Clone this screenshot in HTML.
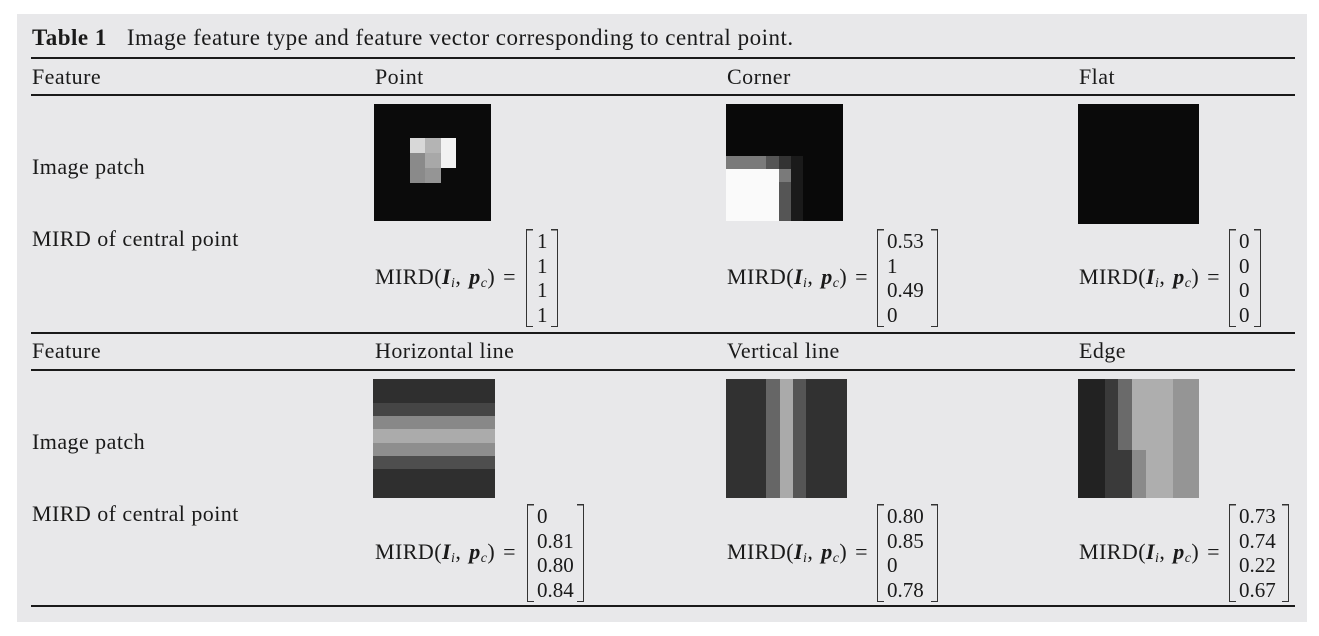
<!DOCTYPE html>
<html><head><meta charset="utf-8"><style>
body{margin:0;width:1319px;height:636px;background:#fff;position:relative;overflow:hidden;font-family:"Liberation Serif",serif;color:#1a1a1a;}
#box{position:absolute;left:17px;top:14px;width:1290px;height:608px;background:#e8e8ea;}
.t{position:absolute;font-size:22px;line-height:22px;white-space:nowrap;letter-spacing:0.45px;}
.hl{position:absolute;left:31px;width:1264px;height:2px;background:#1a1a1a;}
.m{position:absolute;border-left:1.5px solid #333;border-right:1.5px solid #333;box-sizing:border-box;font-size:21px;
background:linear-gradient(#333,#333) left top/6px 1.5px no-repeat,linear-gradient(#333,#333) right top/6px 1.5px no-repeat,linear-gradient(#333,#333) left bottom/6px 1.5px no-repeat,linear-gradient(#333,#333) right bottom/6px 1.5px no-repeat;}
.m div{height:24.5px;line-height:24.5px;padding-left:9px;}
.p{position:absolute;}
sub{font-size:14px;font-style:italic;vertical-align:-3px;}
b i{font-weight:bold;}
.f{word-spacing:2px;}
</style></head><body>
<div id="box"></div>
<div class="t" style="left:32px;top:27px;font-size:23px;letter-spacing:0.5px"><b>Table 1</b><span style="display:inline-block;width:20px"></span>Image feature type and feature vector corresponding to central point.</div>
<div class="hl" style="top:57px"></div>
<div class="hl" style="top:94px"></div>
<div class="hl" style="top:332px"></div>
<div class="hl" style="top:369px"></div>
<div class="hl" style="top:605px"></div>

<div class="t" style="left:32px;top:66px">Feature</div>
<div class="t" style="left:375px;top:66px">Point</div>
<div class="t" style="left:727px;top:66px">Corner</div>
<div class="t" style="left:1079px;top:66px">Flat</div>
<div class="t" style="left:32px;top:156px">Image patch</div>
<div class="t" style="left:32px;top:228px">MIRD of central point</div>

<div class="t" style="left:32px;top:340px">Feature</div>
<div class="t" style="left:375px;top:340px">Horizontal line</div>
<div class="t" style="left:727px;top:340px">Vertical line</div>
<div class="t" style="left:1079px;top:340px">Edge</div>
<div class="t" style="left:32px;top:431px">Image patch</div>
<div class="t" style="left:32px;top:503px">MIRD of central point</div>

<div class="t f" style="left:375px;top:266px">MIRD(<b><i>I</i></b><sub>i</sub>, <b><i>p</i></b><sub>c</sub>) =</div>
<div class="t f" style="left:727px;top:266px">MIRD(<b><i>I</i></b><sub>i</sub>, <b><i>p</i></b><sub>c</sub>) =</div>
<div class="t f" style="left:1079px;top:266px">MIRD(<b><i>I</i></b><sub>i</sub>, <b><i>p</i></b><sub>c</sub>) =</div>
<div class="t f" style="left:375px;top:541px">MIRD(<b><i>I</i></b><sub>i</sub>, <b><i>p</i></b><sub>c</sub>) =</div>
<div class="t f" style="left:727px;top:541px">MIRD(<b><i>I</i></b><sub>i</sub>, <b><i>p</i></b><sub>c</sub>) =</div>
<div class="t f" style="left:1079px;top:541px">MIRD(<b><i>I</i></b><sub>i</sub>, <b><i>p</i></b><sub>c</sub>) =</div>

<div class="m" style="left:526px;top:229px;width:32px;height:98px"><div style="padding-left:10px">1</div><div style="padding-left:10px">1</div><div style="padding-left:10px">1</div><div style="padding-left:10px">1</div></div>
<div class="m" style="left:877px;top:229px;width:61px;height:98px"><div>0.53</div><div>1</div><div>0.49</div><div>0</div></div>
<div class="m" style="left:1229px;top:229px;width:32px;height:98px"><div>0</div><div>0</div><div>0</div><div>0</div></div>
<div class="m" style="left:527px;top:504px;width:57px;height:98px"><div>0</div><div>0.81</div><div>0.80</div><div>0.84</div></div>
<div class="m" style="left:877px;top:504px;width:61px;height:98px"><div>0.80</div><div>0.85</div><div>0</div><div>0.78</div></div>
<div class="m" style="left:1229px;top:504px;width:60px;height:98px"><div>0.73</div><div>0.74</div><div>0.22</div><div>0.67</div></div>

<svg class="p" style="left:0;top:0" width="1319" height="636">
<g>
<rect x="374" y="104" width="117" height="117" fill="#0b0b0b"/>
<rect x="410" y="138" width="15" height="15" fill="#d8d8d8"/>
<rect x="425" y="138" width="16" height="15" fill="#b4b4b4"/>
<rect x="441" y="138" width="15" height="30" fill="#f2f2f2"/>
<rect x="410" y="153" width="15" height="30" fill="#8a8a8a"/>
<rect x="425" y="153" width="16" height="15" fill="#a8a8a8"/>
<rect x="425" y="168" width="16" height="15" fill="#959595"/>
</g>
<g>
<rect x="726" y="104" width="117" height="117" fill="#090909"/>
<rect x="726" y="156" width="40" height="13" fill="#7a7a7a"/>
<rect x="766" y="156" width="13" height="13" fill="#555"/>
<rect x="779" y="156" width="12" height="13" fill="#333"/>
<rect x="779" y="169" width="12" height="13" fill="#7a7a7a"/>
<rect x="791" y="156" width="12" height="65" fill="#1a1a1a"/>
<rect x="779" y="182" width="12" height="39" fill="#555"/>
<rect x="726" y="169" width="53" height="52" fill="#fafafa"/>
</g>
<rect x="1078" y="104" width="121" height="120" fill="#0a0a0a"/>
<g>
<rect x="373" y="379" width="122" height="119" fill="#2f2f2f"/>
<rect x="373" y="403" width="122" height="13" fill="#454545"/>
<rect x="373" y="416" width="122" height="13" fill="#888"/>
<rect x="373" y="429" width="122" height="14" fill="#ababab"/>
<rect x="373" y="443" width="122" height="13" fill="#8e8e8e"/>
<rect x="373" y="456" width="122" height="13" fill="#4e4e4e"/>
</g>
<g>
<rect x="726" y="379" width="121" height="119" fill="#313131"/>
<rect x="766" y="379" width="14" height="119" fill="#666"/>
<rect x="780" y="379" width="13" height="119" fill="#aaa"/>
<rect x="793" y="379" width="13" height="119" fill="#555"/>
</g>
<g>
<rect x="1078" y="379" width="121" height="119" fill="#222"/>
<rect x="1105" y="379" width="13" height="119" fill="#3a3a3a"/>
<rect x="1118" y="379" width="14" height="119" fill="#6a6a6a"/>
<rect x="1132" y="379" width="41" height="119" fill="#aeaeae"/>
<rect x="1173" y="379" width="26" height="119" fill="#959595"/>
<rect x="1118" y="450" width="14" height="48" fill="#3a3a3a"/>
<rect x="1132" y="450" width="14" height="48" fill="#8a8a8a"/>
</g>
</svg>
</body></html>
